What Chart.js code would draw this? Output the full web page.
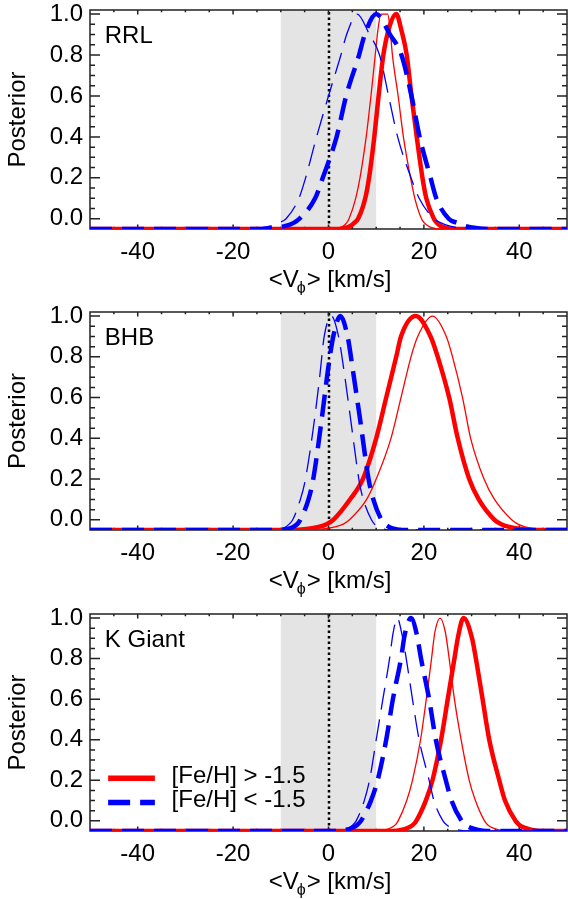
<!DOCTYPE html>
<html>
<head>
<meta charset="utf-8">
<script src="https://cdn.jsdelivr.net/npm/chart.js@4/dist/chart.umd.min.js"></script>
<style>
  html, body { margin: 0; padding: 0; background: #fff; overflow: hidden; }
  .panel { position: absolute; left: 0; width: 568px; height: 295px; }
</style>
</head>
<body>
<div class="panel" style="top:0px"><canvas id="rrl" width="568" height="295"></canvas></div>
<div class="panel" style="top:302px"><canvas id="bhb" width="568" height="295"></canvas></div>
<div class="panel" style="top:604px"><canvas id="kgiant" width="568" height="295"></canvas></div>
<script>
// axis ticks and labels
const xTicks = [-40, -20, 0, 20, 40];
const yTicks = [0, 0.2, 0.4, 0.6, 0.8, 1.0];
const xRange = [-50, 50];
const yRange = [-0.05, 1.02];
const bandRange = [-10, 10];
const legendLabels = ['[Fe/H] > -1.5', '[Fe/H] < -1.5'];

// posterior curves as [<Vphi>, posterior] pairs
// "Main" = thick line, "Alt" = thin line; rich = [Fe/H] > -1.5, poor = [Fe/H] < -1.5
const rrlRichMain = [[-50,-0.05],[2.0,-0.05],[3.4,-0.045],[4.6,-0.035],[5.4,-0.02],[6.2,0.0],[7.7,0.1],[8.5,0.2],[9.6,0.4],[10.5,0.6],[11.5,0.8],[12.8,0.94],[14.2,1.0],[15.3,0.92],[16.4,0.8],[17.4,0.6],[18.5,0.4],[19.7,0.2],[20.5,0.1],[22.1,0.0],[22.7,-0.02],[23.5,-0.035],[24.7,-0.045],[26,-0.05],[50,-0.05]];
const rrlRichAlt = [[-50,-0.05],[1.0,-0.05],[2.2,-0.045],[3.1,-0.035],[3.8,-0.02],[4.3,0.0],[5.7,0.1],[6.6,0.2],[7.9,0.4],[8.9,0.6],[9.8,0.8],[10.4,0.93],[11.0,1.0],[12.4,1.0],[12.9,0.93],[13.4,0.8],[14.6,0.6],[15.7,0.4],[17.2,0.2],[18.1,0.1],[19.5,0.0],[20.1,-0.02],[20.9,-0.035],[21.9,-0.045],[23.1,-0.05],[50,-0.05]];
const rrlPoorMain = [[-50,-0.05],[-14,-0.05],[-11.3,-0.045],[-9.0,-0.035],[-7.3,-0.02],[-6.1,0.0],[-2.8,0.1],[-1.2,0.2],[1.7,0.4],[3.7,0.6],[6.4,0.8],[7.6,0.9],[10,1.0],[12.9,0.9],[15.3,0.8],[17.4,0.6],[19.1,0.4],[21.4,0.2],[22.6,0.1],[25.2,0.0],[27.0,-0.02],[28.7,-0.035],[30.9,-0.045],[33.7,-0.05],[50,-0.05]];
const rrlPoorAlt = [[-50,-0.05],[-17,-0.05],[-14.3,-0.045],[-12.1,-0.035],[-10.5,-0.02],[-8.9,0.0],[-6.2,0.1],[-4.8,0.2],[-2.5,0.4],[0,0.6],[2.6,0.8],[3.8,0.9],[6,1.0],[8.6,0.9],[10.7,0.8],[12.6,0.6],[14.5,0.4],[17.3,0.2],[19.0,0.1],[22.1,0.0],[23.6,-0.02],[25.3,-0.035],[27.6,-0.045],[30.4,-0.05],[50,-0.05]];

const bhbRichMain = [[-50,-0.05],[-7.6,-0.05],[-4.6,-0.045],[-2.1,-0.035],[-0.3,-0.02],[1.0,0.0],[4.5,0.1],[7.2,0.2],[10.0,0.4],[12.1,0.6],[14.2,0.8],[15.2,0.9],[18.3,1.0],[21.4,0.9],[22.9,0.8],[25.3,0.6],[27.1,0.4],[29.5,0.2],[31.5,0.1],[34.8,0.0],[36.1,-0.02],[37.9,-0.035],[40.2,-0.045],[43,-0.05],[50,-0.05]];
const bhbRichAlt = [[-50,-0.05],[-4.1,-0.05],[-1.1,-0.045],[1.4,-0.035],[3.2,-0.02],[4.4,0.0],[8.0,0.1],[10.0,0.2],[13.1,0.4],[15.2,0.6],[17.3,0.8],[18.7,0.9],[21.8,1.0],[24.7,0.9],[26.0,0.8],[28.1,0.6],[29.8,0.4],[32.6,0.2],[34.8,0.1],[38.4,0.0],[39.6,-0.02],[41.2,-0.035],[43.4,-0.045],[46.2,-0.05],[50,-0.05]];
const bhbPoorMain = [[-50,-0.05],[-10.1,-0.05],[-8.6,-0.045],[-7.4,-0.035],[-6.5,-0.02],[-5.9,0.0],[-4.2,0.1],[-3.2,0.2],[-1.5,0.48],[-0.2,0.72],[1.0,0.9],[2.5,1.0],[4.0,0.9],[5.2,0.72],[6.7,0.48],[8.4,0.2],[9.4,0.1],[11.1,0.0],[11.8,-0.02],[12.7,-0.035],[13.9,-0.045],[15.5,-0.05],[50,-0.05]];
const bhbPoorAlt = [[-50,-0.05],[-11.6,-0.05],[-10.2,-0.045],[-9.0,-0.035],[-8.2,-0.02],[-7.5,0.0],[-5.9,0.1],[-5.0,0.18],[-3.3,0.43],[-1.9,0.69],[-0.9,0.9],[0.6,1.0],[2.1,0.9],[3.5,0.69],[5.0,0.43],[6.5,0.18],[7.3,0.1],[9.0,0.0],[9.6,-0.02],[10.4,-0.035],[11.6,-0.045],[13,-0.05],[50,-0.05]];

const kgRichMain = [[-50,-0.05],[13.5,-0.05],[15.2,-0.045],[16.6,-0.035],[17.7,-0.02],[18.4,0.0],[20.4,0.1],[21.8,0.2],[23.6,0.4],[25.0,0.6],[26.4,0.8],[27.1,0.9],[28.3,1.0],[30.1,0.9],[30.9,0.8],[32.3,0.6],[33.7,0.4],[35.8,0.2],[37.0,0.1],[39.2,0.0],[40.0,-0.02],[41.2,-0.035],[42.7,-0.045],[44.6,-0.05],[50,-0.05]];
const kgRichAlt = [[-50,-0.05],[10.3,-0.05],[11.8,-0.045],[13.0,-0.035],[14.0,-0.02],[14.6,0.0],[16.4,0.1],[17.6,0.2],[19.3,0.4],[20.5,0.6],[21.6,0.8],[22.3,0.93],[23.4,1.0],[24.5,0.93],[25.3,0.8],[26.4,0.6],[27.8,0.4],[29.5,0.2],[30.8,0.1],[32.7,0.0],[33.4,-0.02],[34.4,-0.035],[35.7,-0.045],[37.3,-0.05],[50,-0.05]];
const kgPoorMain = [[-50,-0.05],[1.6,-0.05],[3.4,-0.045],[4.9,-0.035],[6.0,-0.02],[6.8,0.0],[8.9,0.1],[10.3,0.2],[12.1,0.4],[13.5,0.6],[15.2,0.8],[16.0,0.92],[17.3,1.0],[18.5,0.92],[19.4,0.8],[21.1,0.6],[22.5,0.4],[24.6,0.2],[25.8,0.1],[27.9,0.0],[28.7,-0.02],[29.9,-0.035],[31.4,-0.045],[33.2,-0.05],[50,-0.05]];
const kgPoorAlt = [[-50,-0.05],[1.5,-0.05],[3.0,-0.045],[4.2,-0.035],[5.1,-0.02],[5.8,0.0],[7.5,0.1],[8.6,0.2],[10.0,0.4],[11.4,0.6],[12.8,0.8],[13.5,0.92],[14.4,1.0],[15.4,0.92],[16.3,0.8],[17.6,0.6],[19.0,0.4],[21.1,0.2],[22.1,0.1],[24.0,0.0],[24.8,-0.02],[25.8,-0.035],[27.2,-0.045],[28.8,-0.05],[50,-0.05]];

const FONT = '"Liberation Sans", Arial, Helvetica, sans-serif';
const FONT_SIZE = 24;
const RED = '#ff0000';
const BLUE = '#0000ff';
const THICK = 4.5, THIN = 1.3;
const DASH = [22, 10];

function ds(points, color, width, dash) {
    return {
        data: points.map(p => ({x: p[0], y: p[1]})),
        borderColor: color,
        borderWidth: width,
        borderDash: dash || [],
        pointRadius: 0,
        fill: false,
        cubicInterpolationMode: 'monotone'
    };
}

// band, dotted zero line, boxed frame with inward ticks
const panelDecor = {
    id: 'panelDecor',
    beforeDatasetsDraw(chart) {
        const {ctx, chartArea: a} = chart;
        const x = chart.scales.x, y = chart.scales.y;
        ctx.save();
        let b0 = x.getPixelForValue(bandRange[0]);
        let b1 = x.getPixelForValue(bandRange[1]);
        ctx.fillStyle = '#e4e4e4';
        ctx.fillRect(b0, a.top, b1 - b0, a.bottom - a.top);

        let x0 = Math.round(x.getPixelForValue(0));
        ctx.strokeStyle = '#000';
        ctx.lineWidth = 2.5;
        ctx.setLineDash([2.5, 3]);
        ctx.beginPath();
        ctx.moveTo(x0, a.bottom);
        ctx.lineTo(x0, a.top);
        ctx.stroke();
        ctx.setLineDash([]);

        ctx.strokeStyle = '#222';
        ctx.lineWidth = 1.5;
        ctx.strokeRect(a.left, a.top, a.right - a.left, a.bottom - a.top);
        ctx.beginPath();
        for (let v = -45; v <= 45; v += 5) {
            let px = x.getPixelForValue(v);
            let len = xTicks.includes(v) ? 4.6 : 2.3;
            ctx.moveTo(px, a.bottom); ctx.lineTo(px, a.bottom - len);
            ctx.moveTo(px, a.top); ctx.lineTo(px, a.top + len);
        }
        for (let k = 0; k <= 20; k++) {
            let py = y.getPixelForValue(k * 0.05);
            let len = (k % 4 === 0) ? 10 : 5;
            ctx.moveTo(a.left, py); ctx.lineTo(a.left + len, py);
            ctx.moveTo(a.right, py); ctx.lineTo(a.right - len, py);
        }
        ctx.stroke();
        ctx.restore();
    },
    afterDatasetsDraw(chart, args, opts) {
        const {ctx, chartArea: a} = chart;
        const x = chart.scales.x, y = chart.scales.y;
        const big = FONT_SIZE + 'px ' + FONT, small = '16px ' + FONT;
        ctx.save();
        ctx.fillStyle = '#000';
        ctx.font = big;
        ctx.textAlign = 'left';
        ctx.textBaseline = 'middle';
        ctx.fillText(opts.name, x.getPixelForValue(-46.9), y.getPixelForValue(0.89));

        if (opts.legend) {
            let lx0 = x.getPixelForValue(-46.2), lx1 = x.getPixelForValue(-36.4);
            let ly0 = y.getPixelForValue(0.21), ly1 = y.getPixelForValue(0.09);
            ctx.lineWidth = 5.5;
            ctx.strokeStyle = RED;
            ctx.beginPath(); ctx.moveTo(lx0, ly0); ctx.lineTo(lx1, ly0); ctx.stroke();
            ctx.strokeStyle = BLUE;
            ctx.setLineDash(DASH);
            ctx.beginPath(); ctx.moveTo(lx0, ly1); ctx.lineTo(lx1, ly1); ctx.stroke();
            ctx.setLineDash([]);
            let tx = x.getPixelForValue(-32.9);
            ctx.fillText(legendLabels[0], tx, y.getPixelForValue(0.22));
            ctx.fillText(legendLabels[1], tx, y.getPixelForValue(0.10));
        }

        // x axis title with subscript phi
        ctx.textBaseline = 'alphabetic';
        ctx.font = big;
        let w1 = ctx.measureText('<V').width;
        let w3 = ctx.measureText('> [km/s]').width;
        ctx.font = small;
        let w2 = ctx.measureText('\u03d5').width;
        let tx = x.getPixelForValue(0) + 1 - (w1 + w2 - 2 + w3) / 2;
        let ty = a.bottom + 58;
        ctx.font = big;
        ctx.fillText('<V', tx, ty);
        ctx.font = small;
        ctx.fillText('\u03d5', tx + w1 - 2, ty + 6);
        ctx.font = big;
        ctx.fillText('> [km/s]', tx + w1 + w2 - 1, ty);
        ctx.restore();
    }
};

function makeChart(id, name, curves, plotH, legend) {
    const [richMain, richAlt, poorMain, poorAlt] = curves;
    return new Chart(document.getElementById(id), {
        type: 'line',
        data: {
            datasets: [
                ds(poorMain, BLUE, THICK, DASH),
                ds(poorAlt, BLUE, THIN, DASH),
                ds(richMain, RED, THICK),
                ds(richAlt, RED, THIN)
            ]
        },
        options: {
            responsive: false,
            animation: false,
            devicePixelRatio: 1,
            layout: {padding: {top: 10, right: 1, left: 0, bottom: 0}},
            plugins: {
                legend: {display: false},
                tooltip: {enabled: false},
                panelDecor: {name: name, legend: legend}
            },
            scales: {
                x: {
                    type: 'linear',
                    min: xRange[0],
                    max: xRange[1],
                    grid: {display: false, drawTicks: false},
                    border: {display: false},
                    ticks: {
                        font: {family: FONT, size: FONT_SIZE},
                        color: '#000',
                        padding: 9,
                        maxRotation: 0,
                        callback: v => String(v)
                    },
                    afterBuildTicks: s => { s.ticks = xTicks.map(v => ({value: v})); },
                    afterFit: s => {
                        s.height = 295 - 10 - plotH;
                        s.paddingLeft = 0; s.paddingRight = 0;
                    }
                },
                y: {
                    min: yRange[0],
                    max: yRange[1],
                    grid: {display: false, drawTicks: false},
                    border: {display: false},
                    title: {
                        display: true,
                        text: 'Posterior',
                        color: '#000',
                        font: {family: FONT, size: FONT_SIZE},
                        padding: {top: 4, bottom: 0}
                    },
                    ticks: {
                        font: {family: FONT, size: FONT_SIZE},
                        color: '#000',
                        padding: 7,
                        callback: v => v.toFixed(1)
                    },
                    afterBuildTicks: s => { s.ticks = yTicks.map(v => ({value: v})); },
                    afterFit: s => {
                        s.width = 90;
                        s.paddingTop = 0; s.paddingBottom = 0;
                    }
                }
            }
        },
        plugins: [panelDecor]
    });
}

makeChart('rrl', 'RRL', [rrlRichMain, rrlRichAlt, rrlPoorMain, rrlPoorAlt], 219, false);
makeChart('bhb', 'BHB', [bhbRichMain, bhbRichAlt, bhbPoorMain, bhbPoorAlt], 218, false);
makeChart('kgiant', 'K Giant', [kgRichMain, kgRichAlt, kgPoorMain, kgPoorAlt], 217, true);
</script>
</body>
</html>
